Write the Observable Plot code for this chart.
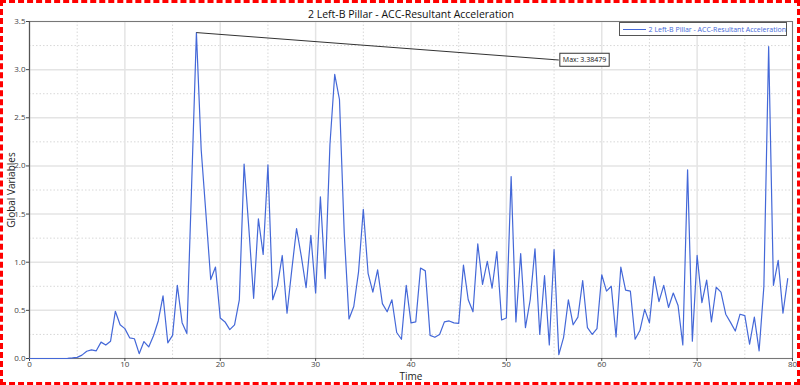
<!DOCTYPE html>
<html>
<head>
<meta charset="utf-8">
<script src="https://cdn.jsdelivr.net/npm/d3@7"></script>
<script src="https://cdn.jsdelivr.net/npm/@observablehq/plot@0.6"></script>
<style>
html, body { margin: 0; padding: 0; background: #fff; }
#wrap { position: relative; width: 800px; height: 385px; overflow: hidden;
  outline: 3px dashed #ff0000; outline-offset: -3px; font-family: "Open Sans", sans-serif; }
#wrap svg { display: block; }
#legend { position: absolute; left: 619px; top: 22px; width: 166px; height: 12px;
  border: 1px solid #555; background: #fff; display: flex; align-items: center;
  font-size: 7px; color: #4468d8; white-space: nowrap; }
#legend .sw { width: 26px; height: 0; border-top: 1.3px solid #4468d8; margin: 0 3px 0 3px; }
</style>
</head>
<body>
<div id="wrap"></div>
<script>
const chartTitle = "2 Left-B Pillar - ACC-Resultant Acceleration";
const seriesName = "2 Left-B Pillar - ACC-Resultant Acceleration";
const xLabel = "Time";
const yLabel = "Global Variables";

const times = [
  0,0.5,1,1.5,2,2.5,3,3.5,4,4.5,5,5.5,6,6.5,7,7.5,8,8.5,9,9.5,
  10,10.5,11,11.5,12,12.5,13,13.5,14,14.5,15,15.5,16,16.5,17,17.5,18,18.5,19,19.5,
  20,20.5,21,21.5,22,22.5,23,23.5,24,24.5,25,25.5,26,26.5,27,27.5,28,28.5,29,29.5,
  30,30.5,31,31.5,32,32.5,33,33.5,34,34.5,35,35.5,36,36.5,37,37.5,38,38.5,39,39.5,
  40,40.5,41,41.5,42,42.5,43,43.5,44,44.5,45,45.5,46,46.5,47,47.5,48,48.5,49,49.5,
  50,50.5,51,51.5,52,52.5,53,53.5,54,54.5,55,55.5,56,56.5,57,57.5,58,58.5,59,59.5,
  60,60.5,61,61.5,62,62.5,63,63.5,64,64.5,65,65.5,66,66.5,67,67.5,68,68.5,69,69.5,
  70,70.5,71,71.5,72,72.5,73,73.5,74,74.5,75,75.5,76,76.5,77,77.5,78,78.5,79,79.5
];
const values = [
  0,0,0,0,0,0,0,0,0.002,0.006,0.012,0.035,0.075,0.09,0.08,0.17,0.14,0.18,0.49,0.35,
  0.31,0.215,0.205,0.05,0.176,0.12,0.236,0.39,0.65,0.163,0.24,0.76,0.372,0.26,1.8,3.38479,2.17,1.5,0.82,0.95,
  0.42,0.38,0.30,0.35,0.61,2.02,1.35,0.625,1.45,1.08,2.01,0.61,0.76,1.07,0.47,0.92,1.35,1.06,0.735,1.28,
  0.68,1.68,0.83,2.22,2.95,2.69,1.30,0.41,0.54,0.90,1.55,0.885,0.69,0.92,0.57,0.485,0.61,0.27,0.20,0.76,
  0.37,0.38,0.94,0.91,0.24,0.22,0.25,0.38,0.39,0.37,0.365,0.97,0.61,0.485,1.19,0.77,1.01,0.73,1.11,0.40,
  0.42,1.89,0.38,1.09,0.32,0.61,1.14,0.25,0.86,0.14,1.13,0.04,0.22,0.61,0.35,0.43,0.81,0.32,0.25,0.31,
  0.87,0.70,0.75,0.225,0.95,0.71,0.70,0.20,0.29,0.51,0.37,0.85,0.59,0.76,0.53,0.68,0.55,0.14,1.96,0.18,
  1.07,0.58,0.815,0.38,0.74,0.69,0.46,0.375,0.285,0.46,0.445,0.148,0.43,0.08,0.75,3.24,0.76,1.02,0.47,0.83
];

const xTicks = [0,10,20,30,40,50,60,70,80];
const xMinorTicks = [5,15,25,35,45,55,65,75];
const yTicks = [0,0.5,1,1.5,2,2.5,3,3.5];
const yMinorTicks = [0.25,0.75,1.25,1.75,2.25,2.75,3.25];
const maxLabelAnchor = {time: 55.5, value: 3.1};

const data = times.map((t, i) => ({time: t, value: values[i]}));
const iMax = d3.maxIndex(data, d => d.value);
const maxPoint = data[iMax];
const maxText = "Max: " + d3.format(".5f")(maxPoint.value);

const lineColor = "#4468d8";

const plot = Plot.plot({
  width: 800,
  height: 385,
  marginTop: 21,
  marginBottom: 27,
  marginLeft: 29,
  marginRight: 8,
  style: {fontFamily: "'Open Sans', sans-serif", background: "#fff"},
  x: {domain: [0, 80]},
  y: {domain: [0, 3.5]},
  marks: [
    Plot.ruleX(xMinorTicks, {stroke: "#d8d8d8", strokeDasharray: "1.5,2"}),
    Plot.ruleY(yMinorTicks, {stroke: "#d8d8d8", strokeDasharray: "1.5,2"}),
    Plot.ruleX(xTicks, {stroke: "#e4e4e4", strokeWidth: 1.5}),
    Plot.ruleY(yTicks, {stroke: "#e4e4e4", strokeWidth: 1.5}),
    Plot.frame({stroke: "#777"}),
    Plot.ruleX([0], {stroke: "#555", strokeWidth: 1.2}),
    Plot.axisY(yTicks, {tickFormat: d3.format(".1f"), tickSize: 3, tickPadding: 1, fontSize: 8,
      color: "#444", label: yLabel, labelAnchor: "center", labelArrow: "none", labelOffset: 22}),
    Plot.axisX(xTicks, {tickSize: 3, tickPadding: 0, fontSize: 8, color: "#444",
      label: xLabel, labelAnchor: "center", labelArrow: "none", labelOffset: 21}),
    Plot.line(data, {x: "time", y: "value", stroke: lineColor, strokeWidth: 1.2}),
    Plot.link([maxPoint], {x1: "time", y1: "value", x2: () => maxLabelAnchor.time, y2: () => maxLabelAnchor.value,
      stroke: "#333", strokeWidth: 1}),
    Plot.text([maxLabelAnchor], {x: "time", y: "value", text: () => maxText, textAnchor: "start",
      dx: 4, fontSize: 7, fill: "#111", className: "maxlabel"}),
    Plot.text([chartTitle], {frameAnchor: "top", text: d => d, dy: -11, fontSize: 10.5, fill: "#111"})
  ]
});

const wrap = document.getElementById("wrap");
wrap.appendChild(plot);

// axis label font size tweak
plot.querySelectorAll("g[aria-label='y-axis label'] text, g[aria-label='x-axis label'] text")
  .forEach(t => { t.setAttribute("font-size", "10"); t.style.fill = "#222"; });

// box around the max label
const lbl = plot.querySelector(".maxlabel text");
if (lbl) {
  const bb = lbl.getBBox();
  const r = document.createElementNS("http://www.w3.org/2000/svg", "rect");
  r.setAttribute("x", bb.x - 3);
  r.setAttribute("y", bb.y - 2);
  r.setAttribute("width", bb.width + 6);
  r.setAttribute("height", bb.height + 4);
  r.setAttribute("fill", "#fff");
  r.setAttribute("stroke", "#333");
  r.setAttribute("stroke-width", "1");
  const tr = lbl.getAttribute("transform");
  if (tr) r.setAttribute("transform", tr);
  lbl.parentNode.insertBefore(r, lbl);
}

// legend
const lg = document.createElement("div");
lg.id = "legend";
lg.innerHTML = '<span class="sw"></span><span></span>';
lg.lastChild.textContent = seriesName;
wrap.appendChild(lg);
</script>
</body>
</html>
